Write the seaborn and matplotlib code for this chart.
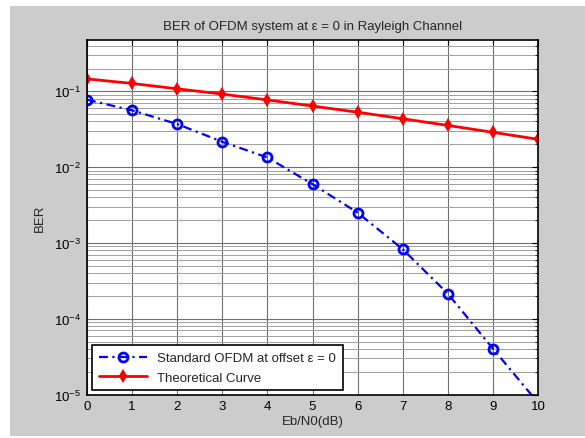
import matplotlib
matplotlib.use("Agg")
import matplotlib.pyplot as plt
import seaborn as sns
import numpy as np
import pandas as pd
from matplotlib.patches import Rectangle
from matplotlib.ticker import LogLocator, NullFormatter

ebn0_db = [0, 1, 2, 3, 4, 5, 6, 7, 8, 9, 10]
ber_sim = [0.0775, 0.0561, 0.0370, 0.0216, 0.0134, 0.00596, 0.00251,
           0.000826, 0.000214, 0.0000403, 0.0000078]
ber_theory = [0.146, 0.127, 0.108, 0.092, 0.077, 0.064, 0.053,
              0.0435, 0.0355, 0.0288, 0.0233]
label_sim = "Standard OFDM at offset \u03b5 = 0"
label_theory = "Theoretical Curve"
title = "BER of OFDM system at \u03b5 = 0 in Rayleigh Channel"

sns.set_style("white")
plt.rcParams['font.family'] = ['Liberation Sans', 'DejaVu Sans']
plt.rcParams['mathtext.fontset'] = 'custom'
plt.rcParams['mathtext.rm'] = 'Liberation Sans'

df_sim = pd.DataFrame({"x": ebn0_db, "y": ber_sim})
df_th = pd.DataFrame({"x": ebn0_db, "y": ber_theory})

fig = plt.figure(figsize=(5.85, 4.39), dpi=100, facecolor='white')
fig.patches.append(Rectangle((10 / 585, 2 / 439), 575 / 585, 430 / 439,
                             transform=fig.transFigure, facecolor='#cccccc',
                             edgecolor='none', zorder=-10))
ax = fig.add_axes([87 / 585, 1 - 395.5 / 439, 451 / 585, (395.5 - 40.7) / 439])
ax.set_facecolor('white')

sns.lineplot(data=df_sim, x="x", y="y", ax=ax, color='#0000ff',
             linewidth=1.6, dashes=False, marker='o', markersize=6.5,
             markerfacecolor='none', markeredgecolor='#0000ff',
             markeredgewidth=2, label=label_sim)
ax.lines[-1].set_dashes([4, 2, 1, 2])
sns.lineplot(data=df_th, x="x", y="y", ax=ax, color='#ff0000', linestyle='-',
             linewidth=2, marker='d', markersize=5, markerfacecolor='#ff0000',
             markeredgecolor='#ff0000', markeredgewidth=1.5, label=label_theory)

ax.set_yscale('log')
ax.set_xlim(0, 10)
ax.set_ylim(1e-5, 0.48)
ax.set_xticks(range(0, 11))
ax.yaxis.set_major_locator(LogLocator(base=10, numticks=10))
ax.yaxis.set_minor_locator(LogLocator(base=10, subs=np.arange(2, 10), numticks=20))
ax.yaxis.set_minor_formatter(NullFormatter())

ax.grid(True, which='major', color='#707070', linewidth=0.8, linestyle='-')
ax.grid(True, which='minor', axis='y', color='#a0a0a0', linewidth=0.7, linestyle='-')
ax.set_axisbelow(True)

ax.tick_params(axis='both', which='both', direction='in', top=True, right=True,
               labelsize=9.5, colors='black', pad=4)
ax.tick_params(which='major', length=4, width=0.8)
ax.tick_params(which='minor', length=2, width=0.6)
for s in ax.spines.values():
    s.set_color('black')
    s.set_linewidth(1.2)

ax.set_xlabel("Eb/N0(dB)", fontsize=9.5, labelpad=2)
ax.set_ylabel("BER", fontsize=9.5, labelpad=6)
ax.set_title(title, fontsize=9.5, pad=8)

leg = ax.legend(loc='lower left', bbox_to_anchor=(0.012, 0.012), fontsize=9.5,
                frameon=True, fancybox=False, edgecolor='black', framealpha=1,
                borderpad=0.5, handlelength=3.6, labelspacing=0.55,
                borderaxespad=0)
leg.get_frame().set_linewidth(1.2)
leg.get_lines()[0].set_dashes([4, 2, 1, 2])

fig.savefig("out.png", dpi=100, facecolor=fig.get_facecolor())
